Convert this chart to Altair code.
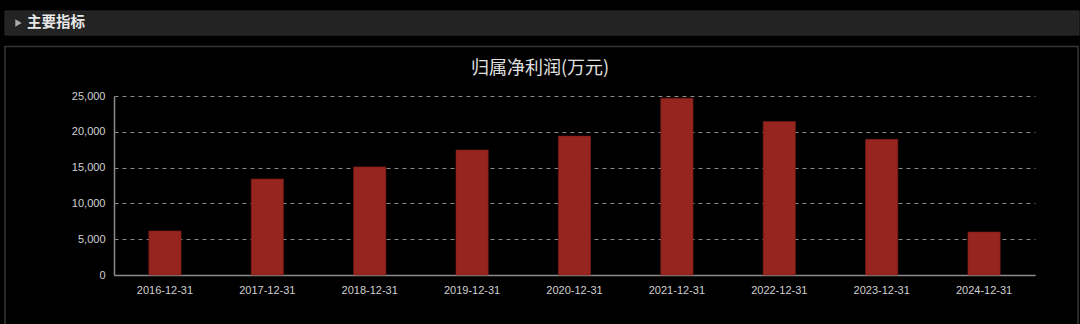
import altair as alt
import pandas as pd

categories = ["2016-12-31", "2017-12-31", "2018-12-31", "2019-12-31", "2020-12-31",
              "2021-12-31", "2022-12-31", "2023-12-31", "2024-12-31"]
values = [6150, 13400, 15100, 17450, 19400, 24700, 21450, 18950, 6000]
y_ticks = [0, 5000, 10000, 15000, 20000, 25000]

df = pd.DataFrame({"date": categories, "profit": values})

W, H = 921, 179
PL, PT, PR, PB = 114, 96, 45, 49

base = alt.Chart(df)

bars = base.mark_bar(color="#962520", stroke="#7a1c18", strokeWidth=0.6).encode(
    x=alt.X("date:N", sort=categories,
            scale=alt.Scale(paddingInner=0.685, paddingOuter=0.34),
            axis=alt.Axis(title=None, labelAngle=0, labelColor="#d0d0d0", labelFontSize=11,
                          labelFont="Liberation Sans", domainColor="#8a8a8a", domainWidth=1.5,
                          ticks=False, labelPadding=9, grid=False)),
    y=alt.Y("profit:Q", scale=alt.Scale(domain=[0, 25000], nice=False),
            axis=alt.Axis(title=None, values=y_ticks, format=",d", labelColor="#d0d0d0",
                          labelFontSize=11, labelFont="Liberation Sans", domainColor="#8a8a8a",
                          domainWidth=1.5, ticks=False, labelPadding=9, grid=True,
                          gridColor="#8a8a8a", gridDash=[4, 4], gridWidth=1)),
)

# decorative header bar and panel frame
header = alt.Chart(pd.DataFrame({"a": [0]})).mark_rect(
    color="#232323", stroke="#2c2c2c", strokeWidth=1).encode(
    x=alt.value(5 - PL), x2=alt.value(1079 - PL),
    y=alt.value(11 - PT), y2=alt.value(35 - PT))
header_tri = alt.Chart(pd.DataFrame({"a": [0]})).mark_point(
    shape="triangle-right", filled=True, color="#e6e6e6", size=55, strokeWidth=0).encode(
    x=alt.value(18.5 - PL), y=alt.value(23 - PT))
header_text = alt.Chart(pd.DataFrame({"t": ["主要指标"]})).mark_text(
    align="left", baseline="middle", color="#e8e8e8", fontSize=14.5, fontWeight="bold",
    font="Noto Sans CJK SC").encode(
    x=alt.value(27 - PL), y=alt.value(23 - PT), text="t:N")
panel = alt.Chart(pd.DataFrame({"a": [0]})).mark_rect(
    filled=False, fill=None, stroke="#363636", strokeWidth=1.5).encode(
    x=alt.value(5 - PL), x2=alt.value(1078 - PL),
    y=alt.value(46.5 - PT), y2=alt.value(340 - PT))
title = alt.Chart(pd.DataFrame({"t": ["归属净利润(万元)"]})).mark_text(
    align="center", baseline="middle", color="#e0e0e0", fontSize=18,
    font="Noto Sans CJK SC").encode(
    x=alt.value(540 - PL), y=alt.value(69 - PT), text="t:N")

chart = alt.layer(panel, header, header_tri, header_text, title, bars).properties(
    width=W, height=H,
    padding={"left": PL, "top": PT, "right": PR, "bottom": PB},
    autosize=alt.AutoSizeParams(type="none"),
    background="#000000",
).configure_view(stroke=None)

chart.save("out.html", embed_options={"renderer": "svg", "actions": False})
